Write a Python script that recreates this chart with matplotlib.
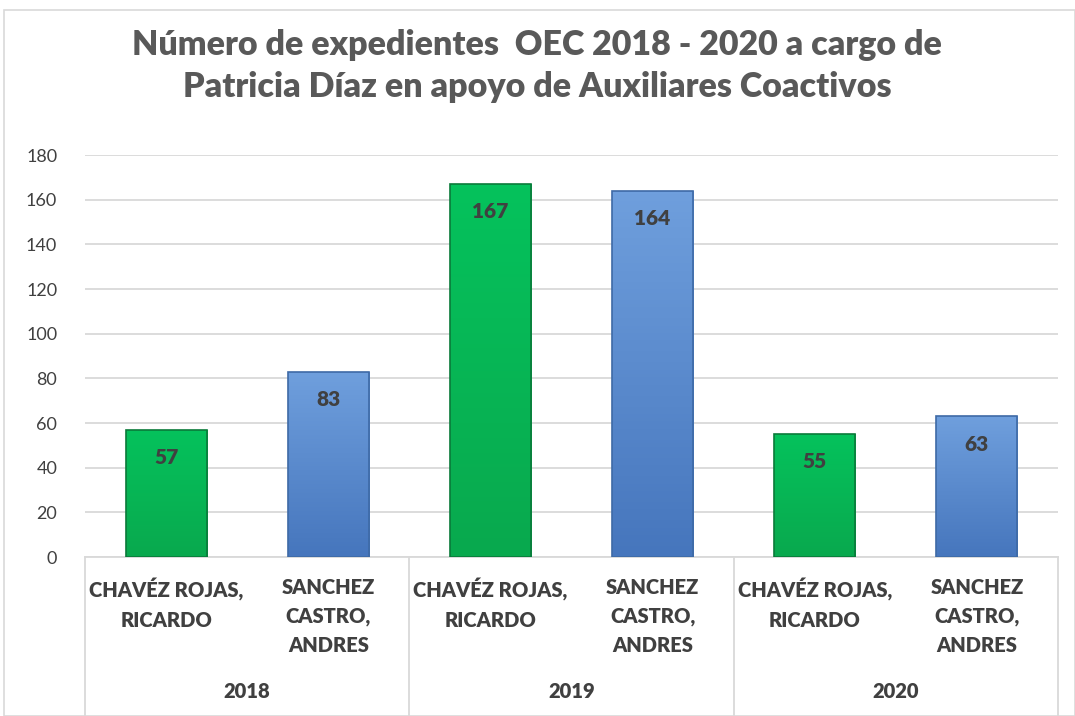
import numpy as np
import matplotlib.pyplot as plt
from matplotlib.patches import Rectangle
from matplotlib.colors import LinearSegmentedColormap
import matplotlib.transforms as mtransforms

plt.rcParams['font.family'] = ['Lato', 'DejaVu Sans']

years = ['2018', '2019', '2020']
people = ['CHAVÉZ ROJAS,\nRICARDO', 'SANCHEZ\nCASTRO,\nANDRES']
values = [57, 83, 167, 164, 55, 63]
grads = [['#09a94e', '#05c25c'], ['#4676bd', '#6f9fdd']]
edges = ['#0a7a3a', '#3e6aa6']

fig = plt.figure(figsize=(10.75, 7.16), dpi=100)
ax = fig.add_axes([85/1075, (716-557)/716, (1058-85)/1075, (557-155)/716])

# chart border
fig.patches.append(Rectangle((4/1075, 0), 1 - 4/1075, (716-10)/716, transform=fig.transFigure,
                             fill=False, edgecolor='#d9d9d9', linewidth=1.2))

x = np.arange(len(values))
bars = ax.bar(x, values, width=0.5, color='none', edgecolor=[edges[i % 2] for i in x], linewidth=1.2, zorder=4)
grad = np.linspace(0, 1, 100).reshape(-1, 1)
for i, (b, v) in enumerate(zip(bars, values)):
    cmap = LinearSegmentedColormap.from_list('g', grads[i % 2])
    im = ax.imshow(grad, cmap=cmap, aspect='auto', origin='lower', zorder=3,
                   extent=[b.get_x(), b.get_x() + b.get_width(), 0, v])
    im.set_clip_path(b)
    ax.annotate(str(v), (x[i], v), xytext=(0, -20), textcoords='offset points',
                ha='center', va='center', fontsize=15, fontweight='heavy', color='#404040', zorder=5)

ax.set_xlim(-0.5, len(values) - 0.5)
ax.set_ylim(0, 180)
ax.set_yticks(range(0, 181, 20))
ax.tick_params(axis='y', length=0, labelsize=13, labelcolor='#404040', pad=20)
ax.set_xticks([])
ax.grid(axis='y', color='#d9d9d9', linewidth=1.3, zorder=0)
for s in ['top', 'right', 'left']:
    ax.spines[s].set_visible(False)
ax.spines['bottom'].set_color('#d9d9d9')
ax.spines['bottom'].set_linewidth(1.3)

# multi-level category axis
trans = mtransforms.blended_transform_factory(ax.transData, fig.transFigure)
for i in range(len(values)):
    fig.text(0, 0, people[i % 2], transform=trans, fontsize=14.5, fontweight='heavy', color='#404040',
             ha='center', va='top', linespacing=1.6).set_position((x[i], (716-578)/716))
for j, yr in enumerate(years):
    fig.text(0, 0, yr, transform=trans, fontsize=14.5, fontweight='heavy', color='#404040',
             ha='center', va='center').set_position((2*j + 0.5, (716-692)/716))
for b in [-0.5, 1.5, 3.5, 5.5]:
    ax.plot([b, b], [(716-557)/716, 0], transform=trans, color='#d9d9d9', linewidth=1.3, clip_on=False)

fig.text(537/1075, (716-66)/716, 'Número de expedientes  OEC 2018 - 2020 a cargo de\nPatricia Díaz en apoyo de Auxiliares Coactivos',
         ha='center', va='center', fontsize=24.5, fontweight='heavy', color='#595959', linespacing=1.35)

fig.savefig('out.png', dpi=100)
